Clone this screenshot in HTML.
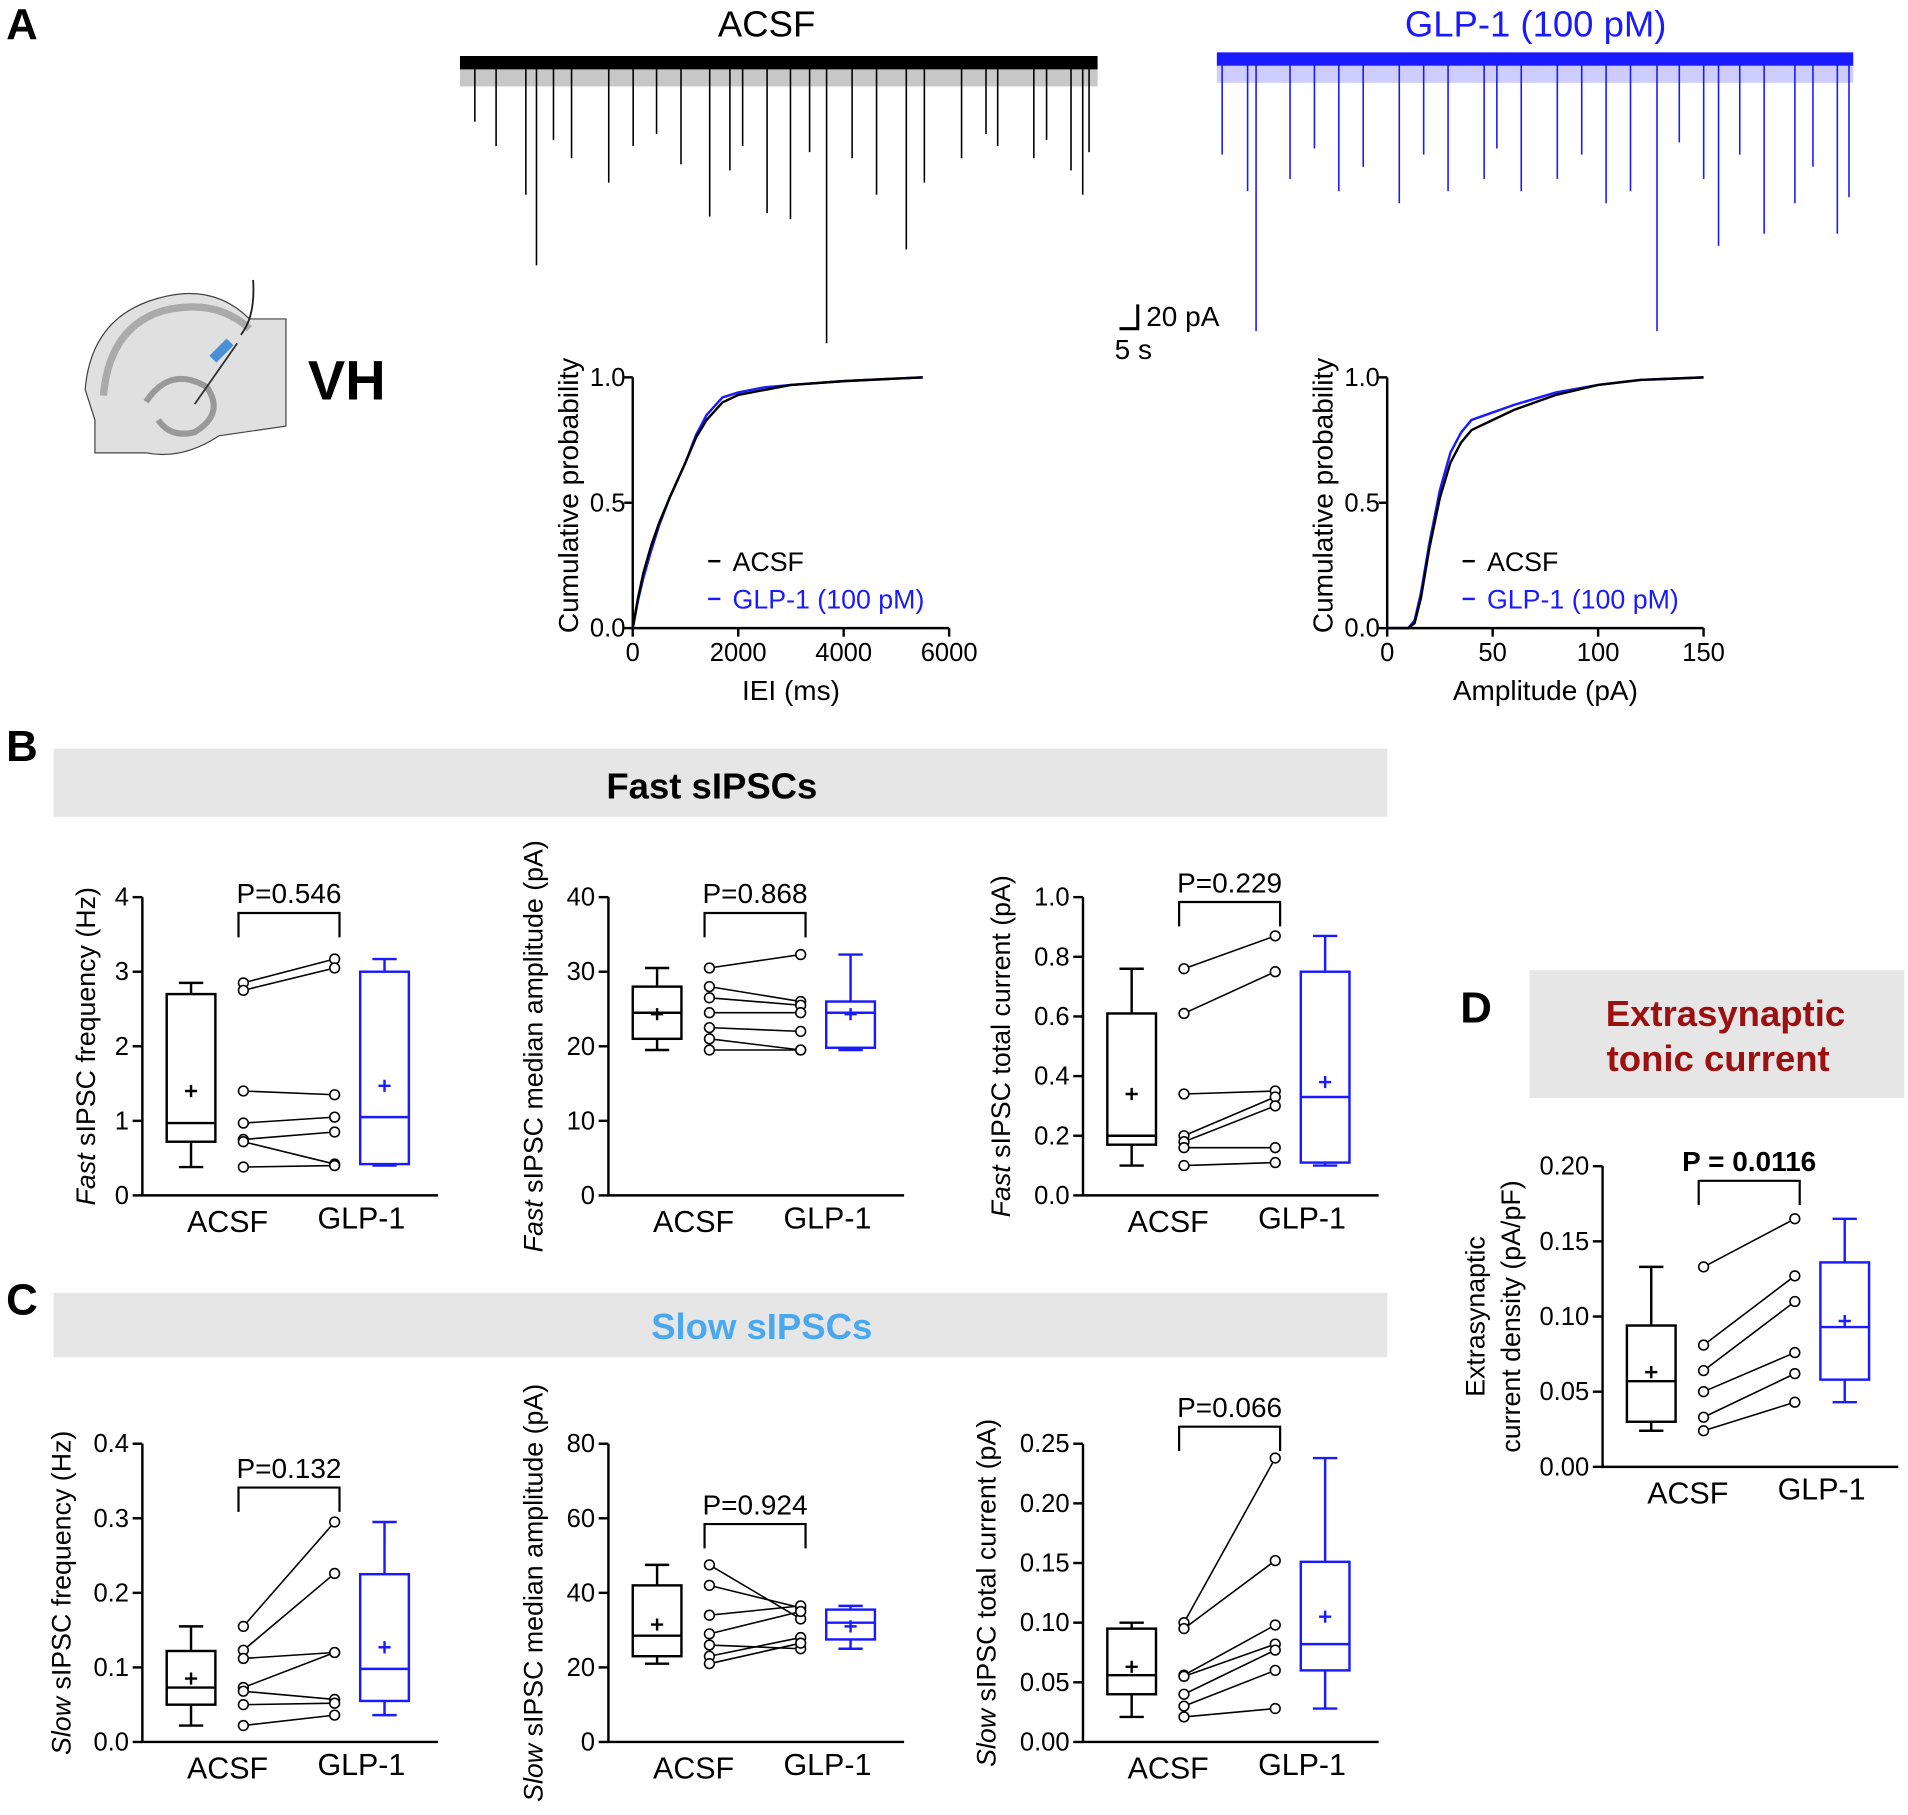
<!DOCTYPE html>
<html><head><meta charset="utf-8"><style>
html,body{margin:0;padding:0;background:#fff;}
svg{display:block;font-family:"Liberation Sans",Arial,sans-serif;}
</style></head><body>
<svg id="fig" xmlns="http://www.w3.org/2000/svg" width="1908" height="1815" viewBox="0 0 1568 1491" preserveAspectRatio="none">
<g>
<path d="M78 345 L70 320 Q75 260 130 245 Q175 232 205 262 L235 262 L235 350 L180 358 Q150 378 120 372 L78 372 Z" fill="#e0e0e0" stroke="#444" stroke-width="1"/>
<path d="M85 325 Q90 268 135 255 Q178 245 205 270" fill="none" stroke="#aaa" stroke-width="6"/>
<path d="M120 330 Q140 300 170 318 Q185 340 160 355 Q140 360 130 345" fill="none" stroke="#999" stroke-width="5"/>
<line x1="160" y1="332" x2="195" y2="282" stroke="#333" stroke-width="1.5"/>
<rect x="172" y="284" width="20" height="8" fill="#4a90d9" transform="rotate(-45 182 288)"/>
<path d="M198 275 Q210 260 208 230" fill="none" stroke="#222" stroke-width="1.5"/>
</g>
</svg>
<script>
// ---------- DATA ----------
const acsfSpikeTimes=[7.2,6.2,34.5,42,28.9,31.1,23.5,3.4,10.5,14,16.3,20.8,25.4,36.9,39.2,43.7,47.2,50.6,54,57.5,59.2,1.4,8.8,18.5,26.6,32.9,49.5,55.2,58.6];
const acsfSpikeAmps=[163,105,227,150,120,125,123,65,75,95,65,80,85,75,105,95,75,65,75,85,70,45,60,55,65,70,55,60,105];
const glpSpikeTimes=[3.7,41.5,2.9,0.5,6.9,11.5,17.2,21.8,25.2,28.7,32.1,36.7,39,45.9,47.3,51.6,54.5,58.5,59.6,34.4,26.4,19.5,9.2,13.8,43.6,49.3,56.2];
const glpSpikeAmps=[220,220,105,75,95,105,115,105,95,105,95,115,105,95,150,140,115,140,110,75,70,75,70,85,65,75,85];

const ieiX=[0,100,200,350,500,700,1000,1200,1400,1700,2000,2500,3000,4000,5000,5500];
const ieiAcsf=[0,0.12,0.22,0.33,0.42,0.52,0.66,0.76,0.83,0.9,0.93,0.95,0.97,0.985,0.995,1];
const ieiGlp=[0,0.11,0.2,0.31,0.41,0.52,0.66,0.77,0.85,0.92,0.94,0.96,0.97,0.985,0.995,1];
const ampX=[0,10,13,16,20,25,30,35,40,50,60,80,100,120,150];
const ampAcsf=[0,0,0.02,0.12,0.32,0.52,0.66,0.74,0.79,0.83,0.87,0.93,0.97,0.99,1];
const ampGlp=[0,0,0.03,0.14,0.34,0.55,0.7,0.78,0.83,0.86,0.89,0.94,0.97,0.99,1];

// box stats: [min,q1,median,q3,max,mean]
const b1Acsf=[0.38,0.72,0.97,2.7,2.85,1.4], b1Glp=[0.4,0.42,1.05,3.0,3.17,1.47];
const b1PairA=[2.85,2.75,1.4,0.97,0.75,0.72,0.38], b1PairG=[3.17,3.05,1.35,1.05,0.85,0.42,0.4];
const b2Acsf=[19.5,21,24.5,28,30.5,24.3], b2Glp=[19.5,19.8,24.5,26,32.3,24.3];
const b2PairA=[30.5,28,26.5,24.5,22.5,21,19.5], b2PairG=[32.3,26,25.5,24.5,22,19.5,19.5];
const b3Acsf=[0.1,0.17,0.2,0.61,0.76,0.34], b3Glp=[0.1,0.11,0.33,0.75,0.87,0.38];
const b3PairA=[0.76,0.61,0.34,0.2,0.18,0.16,0.1], b3PairG=[0.87,0.75,0.35,0.33,0.3,0.16,0.11];
const c1Acsf=[0.022,0.05,0.073,0.122,0.155,0.085], c1Glp=[0.036,0.055,0.098,0.225,0.295,0.127];
const c1PairA=[0.155,0.123,0.112,0.073,0.068,0.05,0.022], c1PairG=[0.295,0.226,0.12,0.12,0.057,0.052,0.036];
const c2Acsf=[21,23,28.5,42,47.5,31.5], c2Glp=[25,27.5,32,35.5,36.5,31];
const c2PairA=[47.5,42,34,29,26,23,21], c2PairG=[33,36,36.5,35,25,28,26.5];
const c3Acsf=[0.021,0.04,0.056,0.095,0.1,0.063], c3Glp=[0.028,0.06,0.082,0.151,0.238,0.105];
const c3PairA=[0.1,0.095,0.056,0.055,0.04,0.03,0.021], c3PairG=[0.238,0.152,0.098,0.082,0.077,0.06,0.028];
const dAcsf=[0.024,0.03,0.057,0.094,0.133,0.063], dGlp=[0.043,0.058,0.093,0.136,0.165,0.097];
const dPairA=[0.133,0.081,0.064,0.05,0.033,0.024], dPairG=[0.165,0.127,0.11,0.076,0.062,0.043];

const NS='http://www.w3.org/2000/svg';
const svg=document.getElementById('fig');
function mk(tag,a,parent){const e=document.createElementNS(NS,tag);for(const k in a)e.setAttribute(k,a[k]);(parent||svg).appendChild(e);return e;}
function txt(x,y,s,size,opts,parent){opts=opts||{};const t=mk('text',{x:x,y:y,'font-size':size,'text-anchor':opts.anchor||'middle',fill:opts.fill||'#000','font-weight':opts.bold?'bold':'normal'},parent);if(opts.rot)t.setAttribute('transform','rotate(-90 '+x+' '+y+')');t.textContent=s;return t;}

// ---------- Panel letters & headers ----------
let e;
e=txt(18,32,'A',36,{bold:true,anchor:'middle'});


e=txt(18,625,'B',36,{bold:true});


e=txt(18,1080,'C',36,{bold:true});


e=txt(1213,840,'D',36,{bold:true});


e=txt(285,328,'VH',46,{bold:true});



e=mk('rect',{x:44,y:615,width:1096,height:56,fill:'#e6e6e6'});


e=txt(585,656,'Fast sIPSCs',30,{bold:true});


e=mk('rect',{x:44,y:1062,width:1096,height:53,fill:'#e6e6e6'});


e=txt(626,1100,'Slow sIPSCs',30,{bold:true,fill:'#4aa8ee'});


e=mk('rect',{x:1257,y:797,width:308,height:105,fill:'#e6e6e6'});


e=txt(1418,843,'Extrasynaptic',30,{bold:true,fill:'#9b1010'});


e=txt(1412,880,'tonic current',30,{bold:true,fill:'#9b1010'});



// ---------- Traces ----------
function trace(x0,x1,base,color,times,amps,key,title,titleX){
  const g=mk('g',{});
  
  
  const tx=t=>x0+(x1-x0)*t/60;
  const ay=a=>base+a;
  let r=mk('rect',{x:x0,y:base-9,width:x1-x0,height:11,fill:color},g);
  
  r=mk('rect',{x:x0,y:base+2,width:x1-x0,height:14,fill:color,opacity:0.22},g);
  
  for(let i=0;i<times.length;i++){
    const l=mk('line',{x1:tx(times[i]),x2:tx(times[i]),y1:base,y2:ay(amps[i]),stroke:color,'stroke-width':1.3},g);
    
  }
  const t=txt(titleX,30,title,30,{fill:color});
  
  
}
trace(378,902,55,'#000',acsfSpikeTimes,acsfSpikeAmps,'acsf','ACSF',630);
trace(1000,1523,52,'#1a1aff',glpSpikeTimes,glpSpikeAmps,'glp1','GLP-1 (100 pM)',1262);
e=mk('path',{d:'M935 250 L935 270 L920 270',fill:'none',stroke:'#000','stroke-width':2.5});


e=txt(942,268,'20 pA',23,{anchor:'start'});


e=txt(916,295,'5 s',23,{anchor:'start'});



// ---------- CDF plots ----------
function cdf(ax,xmax,xticks,xs,ya,yg,xlabel,key){
  const top=310,bot=516,right=ax+260;
  const sx=v=>ax+(right-ax)*v/xmax, sy=v=>bot-(bot-top)*v;
  const g=mk('g',{});
  
  
  let l=mk('path',{d:`M${ax} ${top} L${ax} ${bot} L${right} ${bot}`,fill:'none',stroke:'#000','stroke-width':2},g);
  
  [0,0.5,1].forEach(v=>{
    const t=mk('line',{x1:ax-7,x2:ax,y1:sy(v),y2:sy(v),stroke:'#000','stroke-width':2},g);
    
    const tl=txt(ax-6,sy(v)+7,v.toFixed(1),21,{anchor:'end'},g);
    
  });
  xticks.forEach(v=>{
    const t=mk('line',{x1:sx(v),x2:sx(v),y1:bot,y2:bot+7,stroke:'#000','stroke-width':2},g);
    
    const tl=txt(sx(v),bot+27,String(v),21,{},g);
    
  });
  const pth=(ys)=>xs.map((x,i)=>(i?'L':'M')+sx(x).toFixed(1)+' '+sy(ys[i]).toFixed(1)).join(' ');
  let p=mk('path',{d:pth(yg),fill:'none',stroke:'#1a1aff','stroke-width':2},g);
  
  p=mk('path',{d:pth(ya),fill:'none',stroke:'#000','stroke-width':2},g);
  
  let t=txt(ax-45,(top+bot)/2-6,'Cumulative probability',23,{rot:true},g);
  
  t=txt(ax+130,575,xlabel,23,{},g);
  
  let lg=mk('line',{x1:ax+62,x2:ax+72,y1:461,y2:461,stroke:'#000','stroke-width':2},g);
  
  t=txt(ax+82,469,'ACSF',22,{anchor:'start'},g);
  
  lg=mk('line',{x1:ax+62,x2:ax+72,y1:492,y2:492,stroke:'#1a1aff','stroke-width':2},g);
  
  t=txt(ax+82,500,'GLP-1 (100 pM)',22,{anchor:'start',fill:'#1a1aff'},g);
  
}
cdf(520,6000,[0,2000,4000,6000],ieiX,ieiAcsf,ieiGlp,'IEI (ms)','iei');
cdf(1140,150,[0,50,100,150],ampX,ampAcsf,ampGlp,'Amplitude (pA)','amplitude');

// ---------- Box plots ----------
function boxplot(c){
  const ax=c.ax, top=c.top, bot=c.bot, key=c.key;
  const sy=v=>bot-(bot-top)*v/c.max;
  const g=mk('g',{});
  
  
  let a=mk('path',{d:`M${ax} ${top} L${ax} ${bot} L${ax+243} ${bot}`,fill:'none',stroke:'#000','stroke-width':2},g);
  
  c.ticks.forEach(v=>{
    const t=mk('line',{x1:ax-8,x2:ax,y1:sy(v),y2:sy(v),stroke:'#000','stroke-width':2},g);
    
    const tl=txt(ax-11,sy(v)+7,v.toFixed(c.dec),21,{anchor:'end'},g);
    
  });
  const drawBox=(s,cx,col,nm)=>{
    let l=mk('line',{x1:cx,x2:cx,y1:sy(s[0]),y2:sy(s[4]),stroke:col,'stroke-width':2},g);
    
    [s[0],s[4]].forEach(v=>{const w=mk('line',{x1:cx-10,x2:cx+10,y1:sy(v),y2:sy(v),stroke:col,'stroke-width':2},g);
      });
    const b=mk('rect',{x:cx-20,y:sy(s[3]),width:40,height:sy(s[1])-sy(s[3]),fill:'#fff',stroke:col,'stroke-width':2},g);
    
    l=mk('line',{x1:cx-20,x2:cx+20,y1:sy(s[2]),y2:sy(s[2]),stroke:col,'stroke-width':2},g);
    
    const m=mk('path',{d:`M${cx-5} ${sy(s[5])} h10 M${cx} ${sy(s[5])-5} v10`,stroke:col,'stroke-width':2},g);
    
  };
  drawBox(c.acsf,ax+40,'#000','acsf');
  drawBox(c.glp,ax+199,'#1a1aff','glp1');
  const pl=ax+83, pr=ax+158;
  for(let i=0;i<c.pa.length;i++){
    const l=mk('line',{x1:pl,x2:pr,y1:sy(c.pa[i]),y2:sy(c.pg[i]),stroke:'#000','stroke-width':1.3},g);
    
    const p1=mk('circle',{cx:pl,cy:sy(c.pa[i]),r:4,fill:'#fff',stroke:'#000','stroke-width':1.3},g);
    
    const p2=mk('circle',{cx:pr,cy:sy(c.pg[i]),r:4,fill:'#fff',stroke:'#000','stroke-width':1.3},g);
    
  }
  const br=mk('path',{d:`M${pl-4} ${c.by+20} V${c.by} H${pr+4} V${c.by+20}`,fill:'none',stroke:'#000','stroke-width':1.8},g);
  
  let t=txt((pl+pr)/2,c.by-8,c.p,23,{bold:!!c.pbold},g);
  
  t=txt(ax+70,bot+30,'ACSF',25,{},g);
  
  t=txt(ax+180,bot+27,'GLP-1',25,{},g);
  
  const yt=mk('text',{x:c.lx,y:(top+bot)/2,'font-size':22,'text-anchor':'middle',transform:`rotate(-90 ${c.lx} ${(top+bot)/2})`},g);
  
  if(c.it){const ts=mk('tspan',{'font-style':'italic'},yt);ts.textContent=c.it;const r=mk('tspan',{},yt);r.textContent=c.lab;}
  else yt.textContent=c.lab;
  if(c.lab2){const y2=txt(c.lx+29,(top+bot)/2,c.lab2,22,{rot:true},g);}
}
boxplot({key:'fast-frequency',ax:117,top:737,bot:982,max:4,ticks:[0,1,2,3,4],dec:0,acsf:b1Acsf,glp:b1Glp,pa:b1PairA,pg:b1PairG,by:750,p:'P=0.546',lx:78,it:'Fast',lab:' sIPSC frequency (Hz)'});
boxplot({key:'fast-amplitude',ax:500,top:737,bot:982,max:40,ticks:[0,10,20,30,40],dec:0,acsf:b2Acsf,glp:b2Glp,pa:b2PairA,pg:b2PairG,by:750,p:'P=0.868',lx:446,it:'Fast',lab:' sIPSC median amplitude (pA)'});
boxplot({key:'fast-current',ax:890,top:737,bot:982,max:1,ticks:[0,0.2,0.4,0.6,0.8,1.0],dec:1,acsf:b3Acsf,glp:b3Glp,pa:b3PairA,pg:b3PairG,by:741,p:'P=0.229',lx:830,it:'Fast',lab:' sIPSC total current (pA)'});
boxplot({key:'slow-frequency',ax:117,top:1186,bot:1431,max:0.4,ticks:[0,0.1,0.2,0.3,0.4],dec:1,acsf:c1Acsf,glp:c1Glp,pa:c1PairA,pg:c1PairG,by:1222,p:'P=0.132',lx:58,it:'Slow',lab:' sIPSC frequency (Hz)'});
boxplot({key:'slow-amplitude',ax:500,top:1186,bot:1431,max:80,ticks:[0,20,40,60,80],dec:0,acsf:c2Acsf,glp:c2Glp,pa:c2PairA,pg:c2PairG,by:1252,p:'P=0.924',lx:446,it:'Slow',lab:' sIPSC median amplitude (pA)'});
boxplot({key:'slow-current',ax:890,top:1186,bot:1431,max:0.25,ticks:[0,0.05,0.1,0.15,0.2,0.25],dec:2,acsf:c3Acsf,glp:c3Glp,pa:c3PairA,pg:c3PairG,by:1172,p:'P=0.066',lx:818,it:'Slow',lab:' sIPSC total current (pA)'});
boxplot({key:'tonic-current',ax:1317,top:958,bot:1205,max:0.2,ticks:[0,0.05,0.1,0.15,0.2],dec:2,acsf:dAcsf,glp:dGlp,pa:dPairA,pg:dPairG,by:970,p:'P = 0.0116',pbold:true,lx:1220,lab:'Extrasynaptic',lab2:'current density (pA/pF)'});
</script>
</body></html>
